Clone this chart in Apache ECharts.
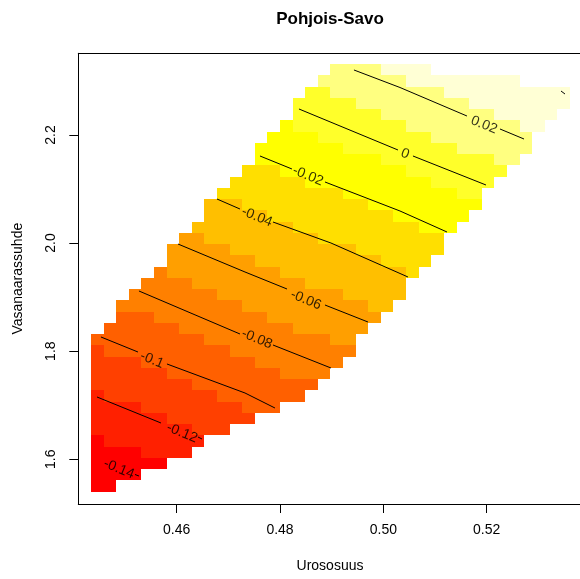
<!DOCTYPE html>
<html><head><meta charset="utf-8">
<script src="https://cdn.jsdelivr.net/npm/echarts@6/dist/echarts.min.js"></script>
<style>html,body{margin:0;padding:0;background:#fff}#c{width:580px;height:579px}</style>
</head><body><div id="c"></div>
<script>
// ---- text ----
const titleText = 'Pohjois-Savo';
const xName = 'Urososuus';
const yName = 'Vasanaarassuhde';
const xTicks = [0.46, 0.48, 0.50, 0.52];
const yTicks = [1.6, 1.8, 2.0, 2.2];
const xTickLabels = ['0.46', '0.48', '0.50', '0.52'];
const yTickLabels = ['1.6', '1.8', '2.0', '2.2'];

// ---- colour bins (heat.colors(12)) ----
const palette = ['#FF0000','#FF2000','#FF4000','#FF6000','#FF8000','#FF9F00','#FFBF00','#FFDF00','#FFFF00','#FFFF2A','#FFFF80','#FFFFD5'];

// ---- image grid: regular grid of cells ----
const gridX0 = 0.443414, gridDX = 0.0024395;   // left edge of column 0, column width
const gridY0 = 1.540067, gridDY = 0.020810;    // bottom edge of row 0, row height
// first non-empty column of each row (row 0 = bottom)
const rowStart = [0,0,0,0,0,0,0,0,0,0,0,0,0,0,1,2,2,3,4,5,6,6,7,8,9,9,10,11,12,13,13,14,15,16,16,17,18,19];
// colour bin of each cell, left to right (a = 10, b = 11)
const rowLevels = [
  '00',
  '0000',
  '000000',
  '00001111',
  '011111111',
  '11111111222',
  '1111112222222',
  '111122222222333',
  '12222222223333333',
  '222222223333333333',
  '2222223333333334444',
  '22223333333334444444',
  '233333333334444444444',
  '333333333444444444455',
  '333333444444444555555',
  '333444444444555555555',
  '4444444444555555555566',
  '4444444555555555566666',
  '444455555555566666666',
  '455555555566666666667',
  '555555566666666667777',
  '5555566666666667777777',
  '556666666667777777777',
  '666666667777777777888',
  '666667777777777888888',
  '6667777777777888888888',
  '777777777788888888899',
  '777777888888888899999',
  '777888888888899999999',
  '8888888888999999999aa',
  '8888888999999999aaaaaa',
  '8888999999999aaaaaaaa',
  '8999999999aaaaaaaaabb',
  '9999999aaaaaaaaabbbbb',
  '99999aaaaaaaaabbbbbbbb',
  '99aaaaaaaaabbbbbbbbbb',
  'aaaaaaabbbbbbbbb',
  'aaaabbbb'
];

// ---- contour lines (pieces between labels) ----
const contour_p002 = [[[0.49431,2.32013],[0.50322,2.28775],[0.51618,2.23503]], [[0.52257,2.21100],[0.52722,2.19249]], [[0.53438,2.28127],[0.53515,2.27573]]];
const contour_0    = [[[0.48367,2.24799],[0.50283,2.17215]], [[0.50573,2.16105],[0.51986,2.10740]]];
const contour_m002 = [[[0.47612,2.16105],[0.48231,2.13700]], [[0.48870,2.11295],[0.50322,2.05931],[0.51231,2.02046]]];
const contour_m004 = [[[0.46780,2.08150],[0.47225,2.06300]], [[0.47864,2.03895],[0.48986,2.00011],[0.50476,1.93722]]];
const contour_m006 = [[[0.46025,1.99826],[0.47322,1.94647],[0.48135,1.91502]], [[0.48870,1.88542],[0.49702,1.85398]]];
const contour_m008 = [[[0.45270,1.91132],[0.47225,1.83178]], [[0.47864,1.81143],[0.48986,1.76889]]];
const contour_m010 = [[[0.44535,1.82623],[0.45251,1.79848]], [[0.45812,1.77629],[0.47322,1.72264],[0.47902,1.69489]]];
const contour_m012 = [[[0.44458,1.71524],[0.45696,1.66715]], [[0.46412,1.64125],[0.46490,1.63755]]];
const contour_m014 = [[[0.45193,1.57188],[0.45270,1.56911]]];
// label text and its place on the line
const contourLabelText = ['0.02', '0', '-0.02', '-0.04', '-0.06', '-0.08', '-0.1', '-0.12', '-0.14'];
const contourLabelPos = [[0.51947,2.21839],[0.50418,2.16475],[0.48541,2.12405],[0.47554,2.04821],[0.48502,1.89467],[0.47554,1.82253],[0.45522,1.78369],[0.46103,1.64865],[0.44883,1.58206]];

// ---- build ----
const cells = [];
rowLevels.forEach((s, j) => {
  for (let k = 0; k < s.length; k++) {
    const i = rowStart[j] + k;
    cells.push([gridX0 + gridDX * (i + 0.5), gridY0 + gridDY * (j + 0.5), parseInt(s[k], 16)]);
  }
});

const FONT = 'Liberation Sans, Arial, sans-serif';
const series = [{
  type: 'custom',
  silent: true,
  data: cells,
  encode: { x: 0, y: 1 },
  renderItem: function (params, api) {
    const xc = api.value(0), yc = api.value(1), lv = api.value(2);
    const p1 = api.coord([xc - gridDX / 2, yc + gridDY / 2]);
    const p2 = api.coord([xc + gridDX / 2, yc - gridDY / 2]);
    const x1 = Math.round(p1[0]), y1 = Math.round(p1[1]);
    const x2 = Math.round(p2[0]), y2 = Math.round(p2[1]);
    return { type: 'rect', shape: { x: x1, y: y1, width: x2 - x1, height: y2 - y1 }, style: { fill: palette[lv] } };
  },
  z: 1
}];
[contour_p002, contour_0, contour_m002, contour_m004, contour_m006, contour_m008, contour_m010, contour_m012, contour_m014].forEach(paths => {
  paths.forEach(p => {
    series.push({ type: 'line', data: p, symbol: 'none', silent: true, lineStyle: { color: '#000', width: 1 }, z: 3 });
  });
});
series.push({
  type: 'scatter', silent: true, symbolSize: 1, itemStyle: { color: 'rgba(0,0,0,0)' },
  data: contourLabelPos.map((p, k) => ({ value: p, name: contourLabelText[k] })),
  label: { show: true, position: 'inside', formatter: '{b}', rotate: -22, fontSize: 14, fontFamily: FONT, color: '#000' },
  z: 4
});

const XMIN = 0.44096, XMAX = 0.538057, YMIN = 1.51731, YMAX = 2.35102;
const chart = echarts.init(document.getElementById('c'), null, { renderer: 'canvas' });
chart.setOption({
  animation: false,
  backgroundColor: '#fff',
  grid: { left: 78.3, top: 53.3, right: 0, bottom: 75, show: false },
  xAxis: [{
    type: 'value', min: XMIN, max: XMAX, position: 'bottom',
    axisLine: { show: true, onZero: false, lineStyle: { color: '#000', width: 1 } }, splitLine: { show: false },
    axisTick: { show: true, length: 9, lineStyle: { color: '#000' }, customValues: xTicks },
    axisLabel: { customValues: xTicks, formatter: v => xTickLabels[xTicks.findIndex(t => Math.abs(t - v) < 1e-9)], fontSize: 14, fontFamily: FONT, color: '#000', margin: 19 }
  }, {
    type: 'value', min: XMIN, max: XMAX, position: 'top',
    axisLine: { show: true, onZero: false, lineStyle: { color: '#000', width: 1 } }, splitLine: { show: false },
    axisTick: { show: false }, axisLabel: { show: false }
  }],
  yAxis: {
    type: 'value', min: YMIN, max: YMAX,
    axisLine: { show: true, onZero: false, lineStyle: { color: '#000', width: 1 } }, splitLine: { show: false },
    axisTick: { show: true, length: 9, lineStyle: { color: '#000' }, customValues: yTicks },
    axisLabel: { customValues: yTicks, formatter: v => yTickLabels[yTicks.findIndex(t => Math.abs(t - v) < 1e-9)], rotate: 90, fontSize: 14, fontFamily: FONT, color: '#000', margin: 20 }
  },
  graphic: [
    { type: 'text', x: 330, y: 19.5, style: { text: titleText, font: 'bold 17px ' + FONT, fill: '#000', textAlign: 'center', textVerticalAlign: 'middle' } },
    { type: 'text', x: 330, y: 566, style: { text: xName, font: '14px ' + FONT, fill: '#000', textAlign: 'center', textVerticalAlign: 'middle' } },
    { type: 'text', x: 18.5, y: 278.7, rotation: Math.PI / 2, style: { text: yName, font: '14px ' + FONT, fill: '#000', textAlign: 'center', textVerticalAlign: 'middle' } }
  ],
  series: series
});
</script></body></html>
